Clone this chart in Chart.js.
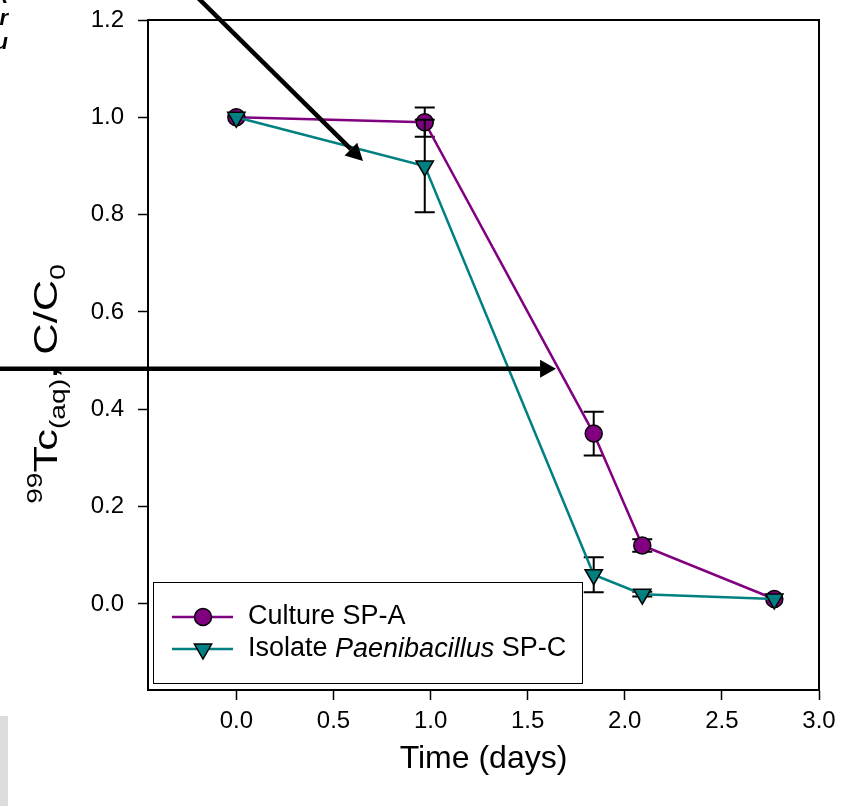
<!DOCTYPE html>
<html><head><meta charset="utf-8">
<script src="https://cdn.jsdelivr.net/npm/chart.js@4/dist/chart.umd.min.js"></script>
<style>html,body{margin:0;padding:0;background:#fff}canvas{display:block}</style>
</head><body>
<canvas id="c" width="857" height="806"></canvas>
<script>
// ---- data ----
const days = [0, 0.97, 1.84, 2.09, 2.77];
const cultureSPA = [1.0, 0.99, 0.35, 0.12, 0.01];
const cultureSPAErr = [0, 0.03, 0.045, 0.013, 0];
const isolateSPC = [1.0, 0.90, 0.06, 0.02, 0.01];
const isolateSPCErr = [0, 0.095, 0.036, 0.005, 0];
const xTicks = [0, 0.5, 1.0, 1.5, 2.0, 2.5, 3.0];
const yTicks = [0, 0.2, 0.4, 0.6, 0.8, 1.0, 1.2];
const xTitle = 'Time (days)';
const legendA = 'Culture SP-A';
const legendC = ['Isolate ', 'Paenibacillus', ' SP-C'];
// annotation arrows in data units [x0, y0, x1, y1]
const arrow1 = [-0.29, 1.282, 0.652, 0.910];
const arrow2 = [-1.27, 0.483, 1.646, 0.483];

const FONT = "'Liberation Sans', Arial, Helvetica, sans-serif";
const PURPLE = '#800080', TEAL = '#008080';

function pts(ys){ return days.map((d,i)=>({x:d, y:ys[i]})); }

function drawArrow(ctx, x0, y0, x1, y1, w, hl, hw){
  const a = Math.atan2(y1-y0, x1-x0);
  const bx = x1 - Math.cos(a)*hl, by = y1 - Math.sin(a)*hl;
  ctx.save();
  ctx.strokeStyle = '#000'; ctx.fillStyle = '#000'; ctx.lineWidth = w;
  ctx.beginPath(); ctx.moveTo(x0,y0); ctx.lineTo(bx,by); ctx.stroke();
  ctx.beginPath();
  ctx.moveTo(x1,y1);
  ctx.lineTo(bx + Math.sin(a)*hw, by - Math.cos(a)*hw);
  ctx.lineTo(bx - Math.sin(a)*hw, by + Math.cos(a)*hw);
  ctx.closePath(); ctx.fill();
  ctx.restore();
}

function drawMarker(ctx, style, x, y, color){
  ctx.save();
  ctx.fillStyle = color; ctx.strokeStyle = '#000'; ctx.lineWidth = 1.5;
  ctx.beginPath();
  if (style === 'circle') { ctx.arc(x, y, 8.5, 0, Math.PI*2); }
  else { const r = 10; ctx.moveTo(x - r*0.866, y - r*0.5); ctx.lineTo(x + r*0.866, y - r*0.5); ctx.lineTo(x, y + r); ctx.closePath(); }
  ctx.fill(); ctx.stroke();
  ctx.restore();
}

const extras = {
  id: 'extras',
  beforeDatasetDraw(chart, args){
    const ds = chart.data.datasets[args.index];
    const errs = ds.errs, vals = ds.vals;
    const xs = chart.scales.x, ys = chart.scales.y, ctx = chart.ctx;
    ctx.save();
    ctx.strokeStyle = '#000'; ctx.lineWidth = 2;
    for (let i = 0; i < days.length; i++) {
      if (!errs[i]) continue;
      const px = xs.getPixelForValue(days[i]);
      const yt = ys.getPixelForValue(vals[i] + errs[i]);
      const yb = ys.getPixelForValue(vals[i] - errs[i]);
      ctx.beginPath();
      ctx.moveTo(px, yt); ctx.lineTo(px, yb);
      ctx.moveTo(px-10, yt); ctx.lineTo(px+10, yt);
      ctx.moveTo(px-10, yb); ctx.lineTo(px+10, yb);
      ctx.stroke();
    }
    ctx.restore();
  },
  afterDraw(chart){
    const ctx = chart.ctx, ca = chart.chartArea;
    const xs = chart.scales.x, ys = chart.scales.y;
    // frame top and right
    ctx.save();
    ctx.strokeStyle = '#000'; ctx.lineWidth = 2;
    ctx.beginPath();
    ctx.moveTo(ca.left, ca.top); ctx.lineTo(ca.right, ca.top); ctx.lineTo(ca.right, ca.bottom);
    ctx.stroke();
    ctx.restore();

    // legend
    ctx.save();
    ctx.fillStyle = '#fff'; ctx.strokeStyle = '#000'; ctx.lineWidth = 1;
    ctx.fillRect(153.5, 582.5, 429, 101);
    ctx.strokeRect(153.5, 582.5, 429, 101);
    const rows = [[617, PURPLE, 'circle'], [649, TEAL, 'tri']];
    rows.forEach(r => {
      ctx.strokeStyle = r[1]; ctx.lineWidth = 2.5;
      ctx.beginPath(); ctx.moveTo(172, r[0]); ctx.lineTo(233, r[0]); ctx.stroke();
      drawMarker(ctx, r[2], 203, r[0], r[1]);
    });
    ctx.fillStyle = '#000'; ctx.textBaseline = 'middle'; ctx.textAlign = 'left';
    ctx.font = '27px ' + FONT;
    ctx.fillText(legendA, 248, 617);
    let x = 248;
    ctx.font = '27px ' + FONT; ctx.fillText(legendC[0], x, 649); x += ctx.measureText(legendC[0]).width;
    ctx.font = 'italic 27px ' + FONT; ctx.fillText(legendC[1], x, 649); x += ctx.measureText(legendC[1]).width;
    ctx.font = '27px ' + FONT; ctx.fillText(legendC[2], x, 649);
    ctx.restore();

    // x title
    ctx.save();
    ctx.fillStyle = '#000'; ctx.font = '32px ' + FONT; ctx.textAlign = 'center'; ctx.textBaseline = 'middle';
    ctx.fillText(xTitle, (ca.left + ca.right)/2, 759);
    ctx.restore();

    // y title with super/subscripts
    ctx.save();
    ctx.translate(57, 384); ctx.rotate(-Math.PI/2); ctx.scale(1.28, 1);
    ctx.fillStyle = '#000'; ctx.textBaseline = 'alphabetic'; ctx.textAlign = 'left';
    const segs = [['99', 22, -15], ['Tc', 34, 0], ['(aq)', 22, 8], [', C/C', 34, 0], ['0', 22, 8]];
    let tot = 0;
    segs.forEach(s => { ctx.font = s[1] + 'px ' + FONT; s.push(ctx.measureText(s[0]).width); tot += s[3]; });
    let sx = -tot/2;
    segs.forEach(s => { ctx.font = s[1] + 'px ' + FONT; ctx.fillText(s[0], sx, s[2]); sx += s[3]; });
    ctx.restore();

    // arrows
    drawArrow(ctx, xs.getPixelForValue(arrow1[0]), ys.getPixelForValue(arrow1[1]), xs.getPixelForValue(arrow1[2]), ys.getPixelForValue(arrow1[3]), 4.5, 17, 9);
    drawArrow(ctx, xs.getPixelForValue(arrow2[0]), ys.getPixelForValue(arrow2[1]), xs.getPixelForValue(arrow2[2]), ys.getPixelForValue(arrow2[3]), 4.5, 16, 9);

    // cropped remnants at the left edge
    ctx.save();
    ctx.fillStyle = '#dcdcdc'; ctx.fillRect(0, 716, 8, 90);
    ctx.fillStyle = '#000'; ctx.font = 'italic bold 22px ' + FONT; ctx.textAlign = 'right'; ctx.textBaseline = 'alphabetic';
    ctx.fillText('ak', 8, 3); ctx.fillText('or', 8, 25); ctx.fillText('du', 8, 49);
    ctx.restore();
  }
};

new Chart(document.getElementById('c'), {
  type: 'line',
  data: { datasets: [
    { label: legendA, data: pts(cultureSPA), vals: cultureSPA, errs: cultureSPAErr,
      borderColor: PURPLE, backgroundColor: PURPLE, borderWidth: 2.5,
      pointStyle: 'circle', pointRadius: 8.5, pointBackgroundColor: PURPLE, pointBorderColor: '#000', pointBorderWidth: 1.5,
      order: 1, clip: false },
    { label: legendC.join(''), data: pts(isolateSPC), vals: isolateSPC, errs: isolateSPCErr,
      borderColor: TEAL, backgroundColor: TEAL, borderWidth: 2.5,
      pointStyle: 'triangle', pointRotation: 180, pointRadius: 10, pointBackgroundColor: TEAL, pointBorderColor: '#000', pointBorderWidth: 1.5,
      order: 0, clip: false }
  ]},
  options: {
    responsive: false, animation: false, devicePixelRatio: 1,
    layout: { padding: { left: 0, top: 20, right: 38, bottom: 0 } },
    plugins: { legend: { display: false }, tooltip: { enabled: false } },
    scales: {
      x: { type: 'linear', min: -0.455, max: 3.0,
        afterBuildTicks: s => { s.ticks = xTicks.map(v => ({ value: v })); },
        afterFit: s => { s.height = 116; s.paddingLeft = 0; s.paddingRight = 0; },
        grid: { drawOnChartArea: false, drawTicks: true, tickLength: 10, tickColor: '#000', tickWidth: 1.5 },
        border: { display: true, color: '#000', width: 2 },
        ticks: { color: '#000', font: { family: FONT, size: 24 }, padding: 7, maxRotation: 0, autoSkip: false, callback: v => Number(v).toFixed(1) } },
      y: { type: 'linear', min: -0.177, max: 1.2,
        afterBuildTicks: s => { s.ticks = yTicks.map(v => ({ value: v })); },
        afterFit: s => { s.width = 148; s.paddingTop = 0; s.paddingBottom = 0; },
        grid: { drawOnChartArea: false, drawTicks: true, tickLength: 10, tickColor: '#000', tickWidth: 1.5 },
        border: { display: true, color: '#000', width: 2 },
        ticks: { color: '#000', font: { family: FONT, size: 24 }, padding: 14, autoSkip: false, callback: v => Number(v).toFixed(1) } }
    }
  },
  plugins: [extras]
});
</script>
</body></html>
